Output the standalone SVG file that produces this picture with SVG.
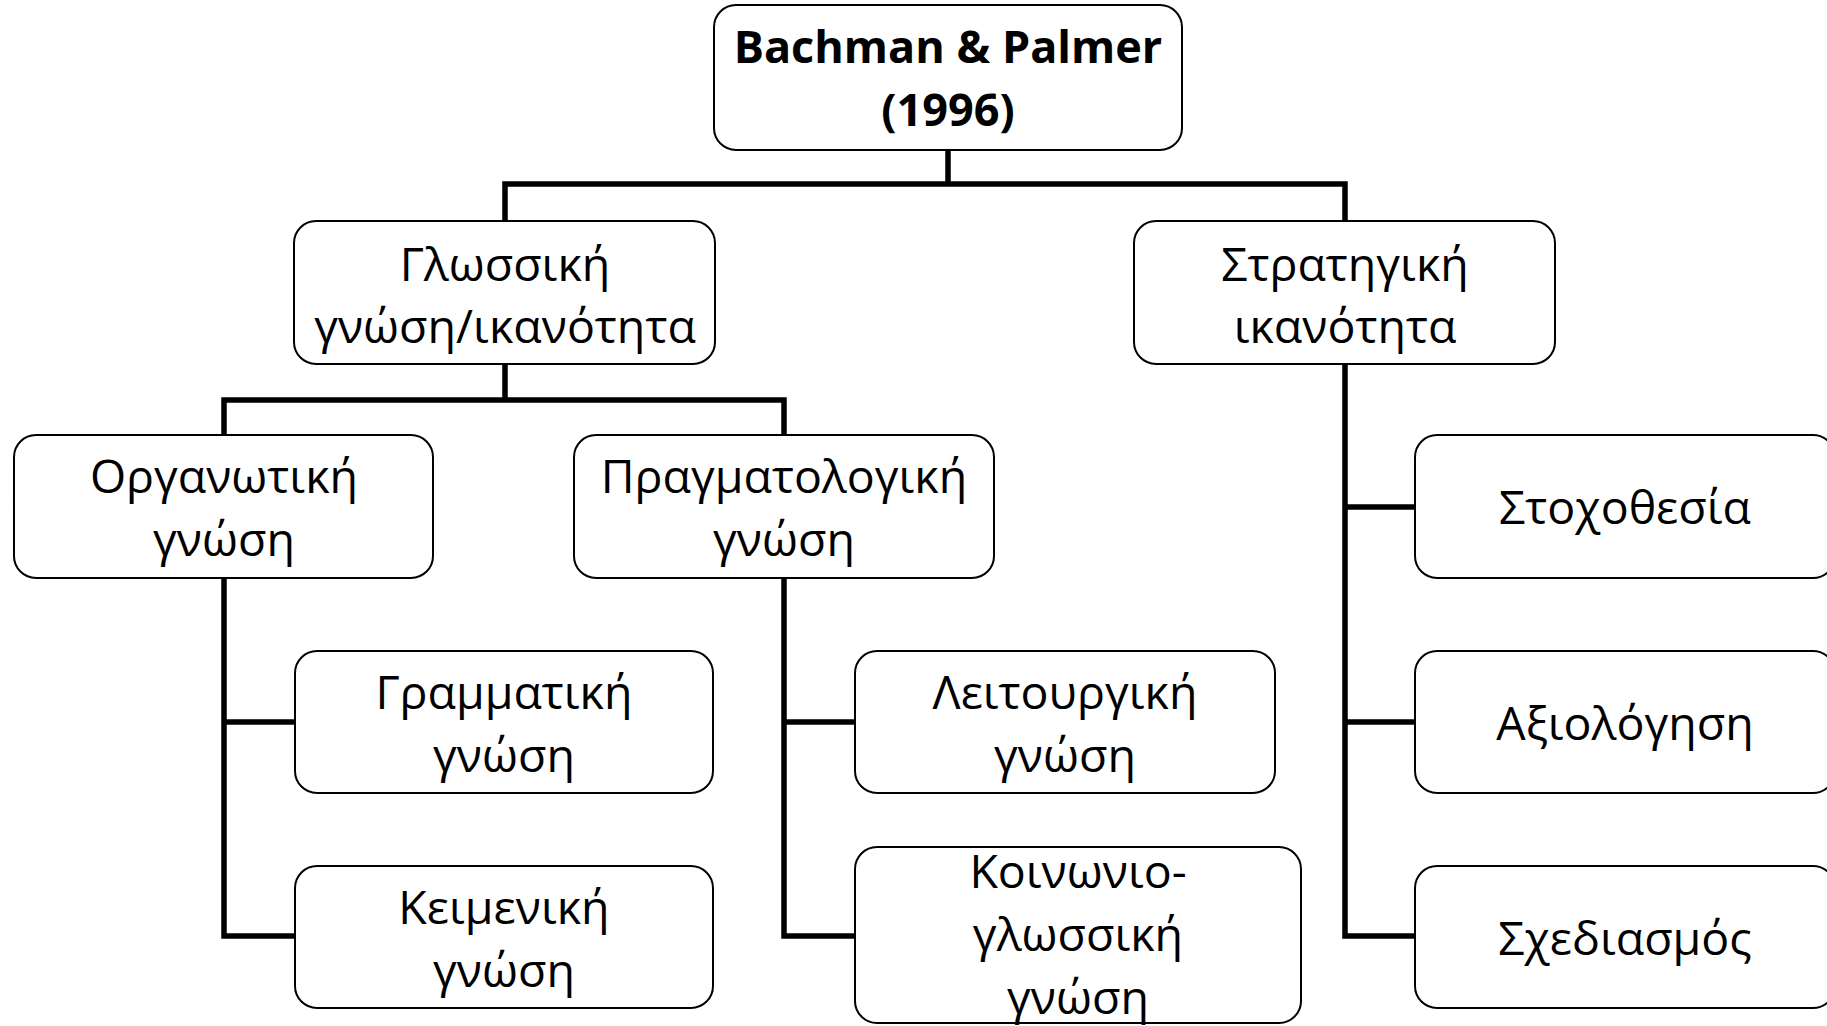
<svg xmlns="http://www.w3.org/2000/svg" width="1827" height="1026" viewBox="0 0 1827 1026">
<style>
.box{fill:#fff;stroke:#000;stroke-width:2}
.t{font-family:"Open Sans","Noto Sans","DejaVu Sans",sans-serif;font-size:46.5px;fill:#000;text-anchor:middle}
.b{font-weight:bold;font-size:45px}
.c{fill:none;stroke:#000;stroke-width:5.5;stroke-linejoin:miter;stroke-linecap:butt}
</style>
<rect width="1827" height="1026" fill="#fff"/>
<g id="connectors">
<path class="c" d="M948,150 V184"/>
<path class="c" d="M505,221 V184 H1345 V221"/>
<path class="c" d="M505,364 V400"/>
<path class="c" d="M224,435 V400 H784 V436"/>
<path class="c" d="M224,578 V936 H295"/>
<path class="c" d="M224,722 H295"/>
<path class="c" d="M784,578 V936 H855"/>
<path class="c" d="M784,722 H855"/>
<path class="c" d="M1345,364 V936 H1415"/>
<path class="c" d="M1345,507 H1415"/>
<path class="c" d="M1345,722 H1415"/>
</g>
<g id="root">
<rect class="box" x="714" y="5" width="468" height="145" rx="22"/>
<text class="t b" x="948" y="63">Bachman &amp; Palmer</text>
<text class="t b" x="948" y="126">(1996)</text>
</g>
<g id="glossiki">
<rect class="box" x="294" y="221" width="421" height="143" rx="22"/>
<text class="t" x="505" y="281">Γλωσσική</text>
<text class="t" x="505" y="343">γνώση/ικανότητα</text>
</g>
<g id="stratigiki">
<rect class="box" x="1134" y="221" width="421" height="143" rx="22"/>
<text class="t" x="1345" y="281">Στρατηγική</text>
<text class="t" x="1345" y="343">ικανότητα</text>
</g>
<g id="organotiki">
<rect class="box" x="14" y="435" width="419" height="143" rx="22"/>
<text class="t" x="224" y="493">Οργανωτική</text>
<text class="t" x="224" y="556">γνώση</text>
</g>
<g id="pragmatologiki">
<rect class="box" x="574" y="435" width="420" height="143" rx="22"/>
<text class="t" x="784" y="493">Πραγματολογική</text>
<text class="t" x="784" y="556">γνώση</text>
</g>
<g id="grammatiki">
<rect class="box" x="295" y="651" width="418" height="142" rx="22"/>
<text class="t" x="504" y="709">Γραμματική</text>
<text class="t" x="504" y="772">γνώση</text>
</g>
<g id="keimeniki">
<rect class="box" x="295" y="866" width="418" height="142" rx="22"/>
<text class="t" x="504" y="924">Κειμενική</text>
<text class="t" x="504" y="987">γνώση</text>
</g>
<g id="leitourgiki">
<rect class="box" x="855" y="651" width="420" height="142" rx="22"/>
<text class="t" x="1065" y="709">Λειτουργική</text>
<text class="t" x="1065" y="772">γνώση</text>
</g>
<g id="koinoniogl">
<rect class="box" x="855" y="847" width="446" height="176" rx="22"/>
<text class="t" x="1078" y="888">Κοινωνιο-</text>
<text class="t" x="1078" y="951">γλωσσική</text>
<text class="t" x="1078" y="1014">γνώση</text>
</g>
<g id="stoxothesia">
<rect class="box" x="1415" y="435" width="420" height="143" rx="22"/>
<text class="t" x="1625" y="524">Στοχοθεσία</text>
</g>
<g id="axiologisi">
<rect class="box" x="1415" y="651" width="420" height="142" rx="22"/>
<text class="t" x="1625" y="740">Αξιολόγηση</text>
</g>
<g id="sxediasmos">
<rect class="box" x="1415" y="866" width="420" height="142" rx="22"/>
<text class="t" x="1625" y="955">Σχεδιασμός</text>
</g>
</svg>
